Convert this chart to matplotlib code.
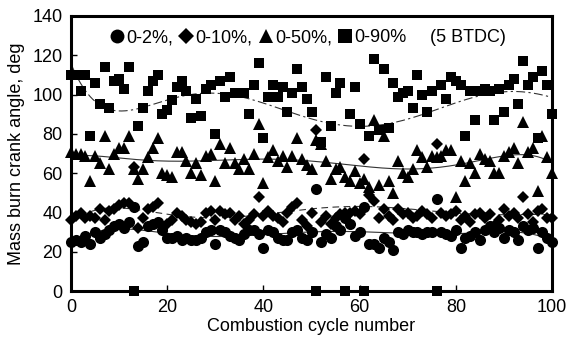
import numpy as np
import matplotlib
matplotlib.use("Agg")
import matplotlib.pyplot as plt

plt.rcParams['font.family'] = ['Liberation Sans', 'DejaVu Sans']

cycles = list(range(0, 101))

burn_0_2 = [25, 26, 25, 28, 24, 30, 27, 29, 31, 33, 34, 32, 35, 43, 23, 25, 33, 34, 35, 31,
            27, 27, 28, 26, 27, 26, 26, 27, 30, 31, 24, 31, 30, 28, 27, 26, 29, 31, 31, 29,
            22, 31, 30, 27, 26, 26, 30, 31, 27, 26, 30, 52, 25, 29, 27, 33, 31, 37, 34, 28,
            30, 43, 24, 24, 22, 27, 25, 21, 30, 29, 31, 30, 30, 29, 30, 30, 47, 30, 29, 28,
            31, 22, 27, 28, 30, 26, 31, 33, 30, 32, 27, 31, 30, 26, 33, 31, 32, 22, 30, 27, 25]

burn_0_10 = [36, 38, 40, 37, 38, 37, 42, 36, 41, 42, 44, 45, 45, 63, 32, 37, 42, 43, 45, 33,
             34, 36, 40, 38, 36, 35, 34, 35, 40, 41, 36, 41, 39, 40, 36, 38, 34, 36, 39, 48,
             38, 41, 38, 37, 35, 40, 43, 45, 36, 33, 40, 82, 35, 38, 34, 37, 39, 40, 40, 41,
             39, 67, 49, 46, 37, 42, 38, 36, 42, 39, 40, 37, 38, 41, 39, 37, 75, 40, 38, 39,
             41, 36, 38, 35, 39, 40, 37, 39, 33, 36, 42, 38, 40, 37, 48, 39, 35, 41, 42, 37, 37]

burn_0_50 = [71, 70, 70, 69, 56, 69, 65, 79, 62, 70, 73, 73, 79, 62, 57, 62, 68, 73, 78, 60,
             59, 58, 71, 71, 66, 60, 65, 59, 69, 70, 56, 75, 65, 73, 65, 62, 67, 62, 70, 85,
             55, 68, 72, 66, 69, 63, 69, 78, 67, 64, 62, 77, 75, 66, 57, 62, 63, 58, 56, 61,
             55, 57, 53, 87, 54, 79, 56, 50, 66, 60, 58, 62, 72, 68, 63, 69, 68, 69, 72, 72,
             48, 66, 56, 65, 60, 70, 67, 66, 60, 60, 69, 71, 73, 65, 86, 71, 73, 51, 79, 68, 60]

burn_0_90 = [110, 110, 102, 110, 79, 106, 95, 114, 93, 107, 108, 103, 114, 0, 84, 93, 102, 107, 110, 90,
             92, 97, 104, 107, 102, 88, 98, 89, 103, 105, 80, 107, 99, 109, 101, 101, 101, 90, 105, 116,
             78, 99, 105, 99, 104, 91, 101, 113, 104, 98, 91, 0, 76, 109, 84, 101, 106, 0, 90, 104,
             85, 0, 79, 118, 82, 113, 83, 106, 99, 101, 102, 93, 110, 100, 91, 102, 0, 105, 98, 109,
             107, 105, 79, 102, 87, 102, 103, 102, 87, 103, 91, 105, 108, 95, 117, 105, 109, 78, 112, 105, 90]

series = [
    (burn_0_2, 'o', 8.0, '0-2%,', '-'),
    (burn_0_10, 'D', 6.3, '0-10%,', (0, (6, 4))),
    (burn_0_50, '^', 8.0, '0-50%,', '-'),
    (burn_0_90, 's', 7.8, '0-90%', (0, (8, 3, 2, 3))),
]

fig = plt.figure(figsize=(5.68, 3.47), dpi=100)
ax = fig.add_axes([0.125, 0.161, 0.847, 0.793])

x = np.array(cycles, dtype=float)
xs = np.linspace(0, 100, 400)
handles = []
for vals, mk, ms, lab, ls in series:
    h, = ax.plot(cycles, vals, linestyle='none', marker=mk, markersize=ms,
                 color='black', markeredgewidth=0, clip_on=False, zorder=3, label=lab)
    handles.append(h)
    coef = np.polyfit(x / 100.0, np.array(vals, dtype=float), 6)
    ax.plot(xs, np.polyval(coef, xs / 100.0), color='#333333', linewidth=0.8,
            linestyle=ls, zorder=2)

ax.set_xlim(0, 100)
ax.set_ylim(0, 140)
ax.set_xticks([0, 20, 40, 60, 80, 100])
ax.set_yticks([0, 20, 40, 60, 80, 100, 120, 140])
ax.tick_params(direction='in', length=4, width=1, labelsize=13, pad=6,
               top=False, right=False)
for sp in ax.spines.values():
    sp.set_linewidth(2.2)

ax.set_xlabel('Combustion cycle number', fontsize=13, labelpad=1)
ax.set_ylabel('Mass burn crank angle, deg', fontsize=13, labelpad=5)

leg = ax.legend(handles=handles, loc='center left', bbox_to_anchor=(0.082, 0.92),
                ncol=4, frameon=False, fontsize=13, handlelength=0.7, markerscale=1.25,
                handletextpad=0.15, columnspacing=0.4, borderaxespad=0.0, borderpad=0.0)
ax.text(0.746, 0.92, '(5 BTDC)', transform=ax.transAxes, fontsize=13,
        ha='left', va='center')

fig.savefig('out.png', dpi=100)
